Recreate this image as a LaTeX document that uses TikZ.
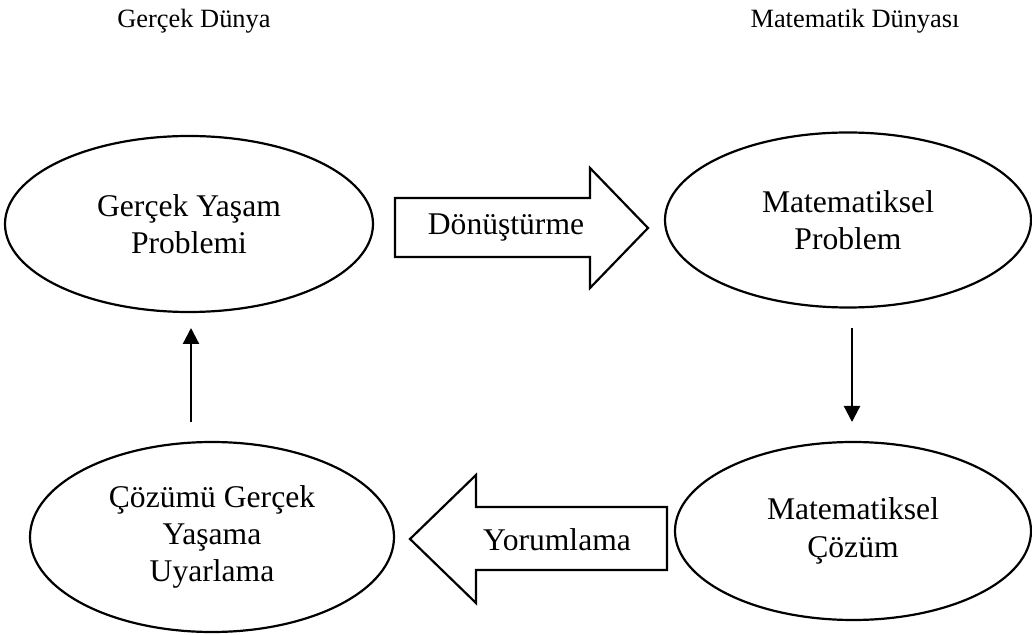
\documentclass[tikz,border=0pt]{standalone}
\usepackage{fontspec}
\setmainfont{Liberation Serif}
\usepackage{tikz}
\usetikzlibrary{arrows.meta}
\usetikzlibrary{shapes.geometric}
\tikzset{every node/.style = {font = \fontsize{15.8}{18.6}\selectfont, align = center}}
\tikzset{heading/.style = {font = \fontsize{13.2}{15}\selectfont}}
\tikzset{oval/.style = {draw, ellipse, line width = 1.1pt, inner sep = 0}}
\tikzset{blockarrow/.style = {draw, line width = 1.1pt, fill = white}}
\tikzset{flow/.style = {line width = 1.1pt, -{Triangle[length = 8pt, width = 8pt]}}}

\begin{document}
\begin{tikzpicture}[x = 0.5pt, y = -0.5pt]
          \useasboundingbox (0, 0) rectangle (1032, 635);
          \node [heading] (realworld) at (194, 21) {Gerçek Dünya};
          \node [heading] (mathworld) at (855, 21) {Matematik Dünyası};

          \node [oval, minimum width = 184pt, minimum height = 88pt] (real) at (189, 224) {Gerçek Yaşam\\Problemi};
          \node [oval, minimum width = 183pt, minimum height = 87.5pt] (mprob) at (848, 220) {Matematiksel\\Problem};
          \node [oval, minimum width = 178pt, minimum height = 89pt] (msol) at (853, 531) {Matematiksel\\Çözüm};
          \node [oval, minimum width = 182pt, minimum height = 95pt] (adapt) at (212, 537) {Çözümü Gerçek\\Yaşama\\Uyarlama};

          % block arrows
          \draw [blockarrow] (395, 198) -- (590, 198) -- (590, 168) -- (648, 228)
            -- (590, 288) -- (590, 257) -- (395, 257) -- cycle;
          \node (transform) at (506, 228) {Dönüştürme};
          \draw [blockarrow] (667, 507) -- (476, 507) -- (476, 475) -- (410, 539)
            -- (476, 603) -- (476, 570) -- (667, 570) -- cycle;
          \node (interpret) at (557, 540) {Yorumlama};

          \coordinate (solvetop) at (852, 328);
          \coordinate (solvebot) at (852, 422);
          \coordinate (backbot) at (191, 422);
          \coordinate (backtop) at (191, 328);
          \draw [flow] (solvetop) -- (solvebot);
          \draw [flow] (backbot) -- (backtop);
        \end{tikzpicture}
\end{document}
